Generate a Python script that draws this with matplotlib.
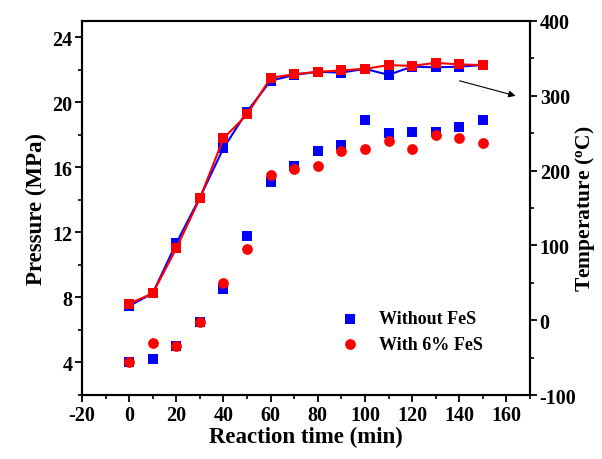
import numpy as np
import matplotlib
matplotlib.use("Agg")
import matplotlib.pyplot as plt
from matplotlib.ticker import MultipleLocator

plt.rcParams['font.family'] = ['Liberation Serif', 'DejaVu Serif']
plt.rcParams['font.weight'] = 'bold'
plt.rcParams['axes.unicode_minus'] = False
plt.rcParams['mathtext.fontset'] = 'custom'
plt.rcParams['mathtext.rm'] = 'Liberation Serif:bold'
plt.rcParams['mathtext.bf'] = 'Liberation Serif:bold'

# reaction time (min)
time = [0, 10, 20, 30, 40, 50, 60, 70, 80, 90, 100, 110, 120, 130, 140, 150]

# pressure (MPa), left axis
p_without = [4.0, 4.2, 5.0, 6.5, 8.5, 11.8, 15.1, 16.1, 17.0, 17.4, 18.9, 18.1, 18.2, 18.2, 18.5, 18.9]
p_with = [4.0, 5.2, 5.0, 6.5, 8.9, 11.0, 15.5, 15.9, 16.1, 17.0, 17.1, 17.6, 17.1, 18.0, 17.8, 17.5]

# temperature (C), right axis
t_without = [19, 36, 103, 164, 230, 279, 320, 328, 332, 331, 336, 328, 339, 338, 339, 341]
t_with = [22, 36, 96, 163, 243, 275, 324, 329, 332, 334, 336, 341, 340, 344, 342, 341]

fig = plt.figure(figsize=(6.02, 4.6), dpi=100)
ax = fig.add_axes([0.1362, 0.1391, 0.7442, 0.8131])
ax2 = ax.twinx()

# pressure points
ax.scatter(time, p_without, marker='s', s=48, color='#0000ff', linewidths=0,
           label='Without FeS', zorder=3)
ax.scatter(time, p_with, marker='o', s=60, color='#ff0000', linewidths=0,
           label='With 6% FeS', zorder=3)

# temperature curves
ax2.plot(time, t_without, '-s', color='#0000ff', lw=1.5, ms=7, mew=0)
ax2.plot(time, t_with, '-s', color='#ff0000', lw=1.5, ms=7, mew=0)

ax.set_xlim(-20, 170)
ax.set_ylim(2, 25)
ax2.set_ylim(-100, 400)

ax.xaxis.set_major_locator(MultipleLocator(20))
ax.xaxis.set_minor_locator(MultipleLocator(10))
ax.yaxis.set_major_locator(MultipleLocator(4))
ax.yaxis.set_minor_locator(MultipleLocator(2))
ax2.yaxis.set_major_locator(MultipleLocator(100))
ax2.yaxis.set_minor_locator(MultipleLocator(50))

for a in (ax, ax2):
    for sp in a.spines.values():
        sp.set_linewidth(1.5)
    a.tick_params(which='major', direction='out', length=5, width=1.3, labelsize=14.5, pad=2)
    a.tick_params(which='minor', direction='out', length=3, width=1.2)
ax.tick_params(axis='both', which='both', top=False, right=False)
ax2.tick_params(axis='y', which='both', left=False)

ax.set_xlabel('Reaction time (min)', fontsize=16.5, fontweight='bold', labelpad=1)
ax.set_ylabel('Pressure (MPa)', fontsize=16.5, fontweight='bold', labelpad=4)
ax2.set_ylabel(r'Temperature ($\mathrm{^o}$C)', fontsize=15.5, fontweight='bold')
ax2.yaxis.set_label_coords(1.097, 0.5)

ax2.annotate('', xy=(165, 299), xytext=(139, 321),
             arrowprops=dict(arrowstyle='-|>', color='black', lw=0.8,
                             mutation_scale=10))

ax.legend(loc='lower left', bbox_to_anchor=(0.522, 0.07), frameon=False,
          fontsize=13, handletextpad=0.6, labelspacing=0.45)

fig.savefig('out.png', dpi=100)
